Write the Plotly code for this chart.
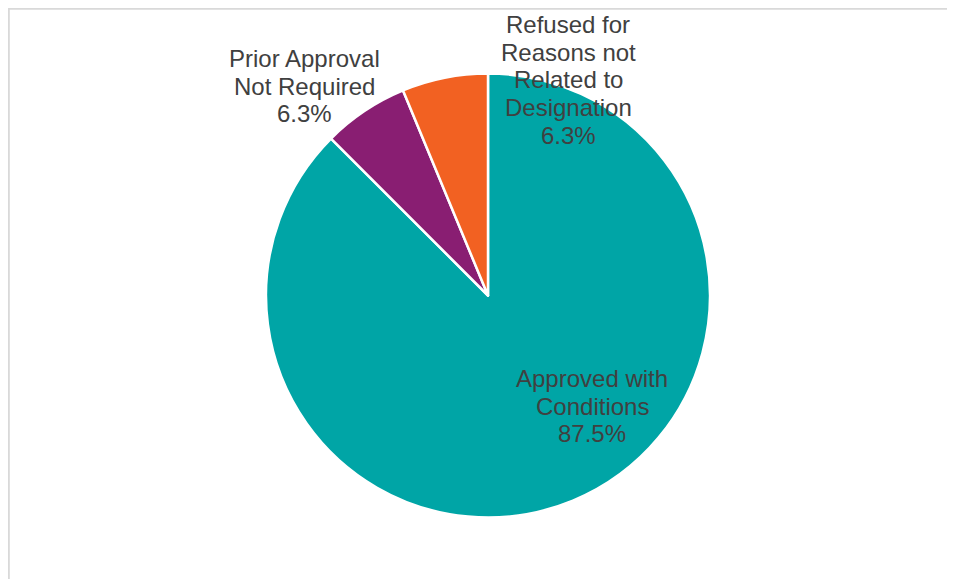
import plotly.graph_objects as go
from decimal import Decimal, ROUND_HALF_UP

# Data
categories = ["Approved with Conditions", "Prior Approval Not Required",
              "Refused for Reasons not Related to Designation"]
counts = [14, 1, 1]
colors = ["#00A5A6", "#891E72", "#F26122"]

# Label text lines (as shown on the chart)
label_lines = [
    ["Approved with", "Conditions"],
    ["Prior Approval", "Not Required"],
    ["Refused for", "Reasons not", "Related to", "Designation"],
]
# Label anchor (pixel) positions in the window: center x, baseline of first line
label_pos = [(592, 387), (304, 67), (568, 33)]

OFF = 8  # page body margin
W, H = 955 - OFF, 579 - OFF
cx, cy, r = 488 - OFF, 295.5 - OFF, 222

total = sum(counts)
pcts = [Decimal(100 * c) / Decimal(total) for c in counts]


def fmt(p):
    return str(p.quantize(Decimal("0.1"), rounding=ROUND_HALF_UP)) + "%"


fig = go.Figure(go.Pie(
    labels=categories,
    values=counts,
    sort=False,
    direction="clockwise",
    rotation=0,
    marker=dict(colors=colors, line=dict(color="white", width=2.5)),
    textinfo="none",
    hoverinfo="skip",
    showlegend=False,
    domain=dict(x=[(cx - r) / W, (cx + r) / W],
                y=[1 - (cy + r) / H, 1 - (cy - r) / H]),
))

FS = 24
LINE = 27.6
annotations = []
for lines, pct, (px, py) in zip(label_lines, pcts, label_pos):
    all_lines = lines + [fmt(pct)]
    for i, t in enumerate(all_lines):
        base = py - OFF + i * LINE
        center = base - 0.3465 * FS
        annotations.append(dict(
            x=(px - OFF) / W, y=1 - center / H, xref="paper", yref="paper",
            text=t, showarrow=False, xanchor="center", yanchor="middle",
            font=dict(family="Liberation Sans, Arial, sans-serif", size=FS, color="#404040"),
        ))

fig.update_layout(
    width=W, height=H,
    margin=dict(l=0, r=0, t=0, b=0),
    paper_bgcolor="white",
    plot_bgcolor="white",
    annotations=annotations,
    shapes=[
        dict(type="line", xref="paper", yref="paper",
             x0=0, x1=1, y0=1 - 0.8 / H, y1=1 - 0.8 / H,
             line=dict(color="#D9D9D9", width=2)),
        dict(type="line", xref="paper", yref="paper",
             x0=0.8 / W, x1=0.8 / W, y0=0, y1=1,
             line=dict(color="#D9D9D9", width=2)),
    ],
)

fig.write_html("out.html")
